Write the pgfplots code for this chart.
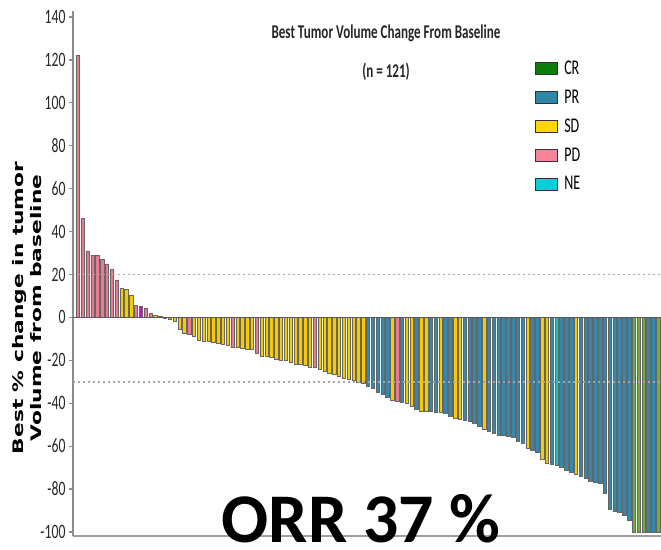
\documentclass[border=0pt]{standalone}
\usepackage{fontspec}
\setmainfont{Carlito}
\newfontfamily\narrow{Carlito}[FakeStretch=0.67]
\newfontfamily\dv{DejaVu Sans}
\usepackage{pgfplots}
\pgfplotsset{compat=1.18}
\definecolor{cCR}{HTML}{6FAE3A}
\definecolor{cCRl}{HTML}{0A7D0A}
\definecolor{cPR}{HTML}{3488AD}
\definecolor{cPRl}{HTML}{2E86A8}
\definecolor{cSD}{HTML}{F7CB00}
\definecolor{cSDl}{HTML}{FFD700}
\definecolor{cPD}{HTML}{EC7A8F}
\definecolor{cPDl}{HTML}{F7849A}
\definecolor{cNE}{HTML}{14C4CC}
\definecolor{cNEl}{HTML}{00D0D8}
\definecolor{cMG}{HTML}{D010D0}
\pgfplotsset{legbox/.style={legend image code/.code={\draw[fill=#1, draw=black!80, line width=0.9bp] (0bp,-6bp) rectangle (22bp,6bp);}}}
\begin{document}
\begin{tikzpicture}
\path[use as bounding box] (0,0) rectangle (661bp,550bp);
\begin{axis}[
  at={(73bp,13.7bp)}, anchor=south west, scale only axis,
  width=588bp, height=525.7bp,
  xmin=-0.03, xmax=121.6, ymin=-102, ymax=143,
  axis x line=bottom, axis y line=left,
  x axis line style={-, draw=gray!75, line width=2bp},
  y axis line style={-, draw=gray!90, line width=1.5bp},
  xtick=\empty,
  ytick={-100,-80,...,140},
  tick align=outside, major tick length=4bp,
  ytick style={draw=gray!90, line width=1.2bp},
  yticklabel style={font=\narrow\fontsize{20.5}{20.5}\selectfont, text=black!85},
  /pgf/number format/assume math mode=true,
  ybar, bar width=3.4bp, bar shift=0pt,
  legend style={at={(0.786,0.909)}, anchor=north west, draw=none, fill=none,
    font=\narrow\fontsize{21}{21}\selectfont, row sep=10bp, inner sep=0pt,
    column sep=4bp},
  legend cell align=left,
]
\addplot[fill=cPD, draw=black!60, line width=0.5bp, forget plot] table {
x y
1 122
2 46
3 31
4 29
5 29
6 27
7 25
8 22.5
9 17.5
13 5.5
15 4.5
16 2
24 -8
33 -14
38 -16.5
50 -23
67 -39
};
\addplot[fill=cMG, draw=black!60, line width=0.5bp, forget plot] table {
x y
14 5
};
\addplot[fill=cSD, draw=black!60, line width=0.5bp, forget plot] table {
x y
10 13.5
11 13
12 10.5
17 1
18 0.5
19 -0.3
20 -0.8
21 -2
22 -5.5
23 -7.5
25 -9
26 -10.5
27 -11
28 -11
29 -11.5
30 -12
31 -12.5
32 -13
34 -14
35 -14.5
36 -15
37 -15
39 -18
40 -18
41 -18.5
42 -19.5
43 -20
44 -20
45 -21
46 -22
47 -22
48 -22.5
49 -23
51 -24
52 -25
53 -26
54 -26.5
55 -27.5
56 -28.5
57 -29
58 -29.5
59 -30
60 -30.5
66 -38.5
69 -40
70 -41.5
72 -43.5
73 -43.5
76 -44
79 -47
80 -47.5
85 -52
94 -61
97 -66
98 -68
104 -73
};
\addplot[fill=cPR, draw=black!60, line width=0.5bp, forget plot] table {
x y
61 -32
62 -33
63 -35
64 -36
65 -37
68 -39.5
71 -43
74 -43.5
75 -44
77 -44.5
78 -46
81 -48
82 -48.5
83 -49.5
84 -50.5
86 -53
87 -54
88 -55
89 -55
90 -55.5
91 -56
92 -57.5
93 -58.5
95 -62
96 -63
99 -68.5
101 -70
102 -71
103 -72
105 -74
106 -75
107 -76.5
108 -77
109 -77.5
110 -82
111 -89.5
112 -90.5
113 -91
114 -92
115 -94.5
119 -100
120 -100
};
\addplot[fill=cNE, draw=black!60, line width=0.5bp, forget plot] table {
x y
100 -69
};
\addplot[fill=cCR, draw=black!60, line width=0.5bp, forget plot] table {
x y
116 -100
117 -100
118 -100
121 -100
};
\draw[gray!70, line width=1.5bp, dash pattern=on 2bp off 3bp] (axis cs:-0.03,20) -- (axis cs:121.6,20);
\draw[gray!70, line width=1.5bp, dash pattern=on 2bp off 3bp] (axis cs:-0.03,-30) -- (axis cs:121.6,-30);
\draw[black!65, line width=1.6bp] (axis cs:-0.03,0) -- (axis cs:121.6,0);
\addlegendimage{legbox=cCRl}\addlegendentry{CR}
\addlegendimage{legbox=cPRl}\addlegendentry{PR}
\addlegendimage{legbox=cSDl}\addlegendentry{SD}
\addlegendimage{legbox=cPDl}\addlegendentry{PD}
\addlegendimage{legbox=cNEl}\addlegendentry{NE}
\end{axis}
\node[anchor=base, font=\narrow\bfseries\fontsize{19.6}{21}\selectfont, text=black!85] at (386bp,511bp) {Best Tumor Volume Change From Baseline};
\node[anchor=base, font=\narrow\bfseries\fontsize{19.6}{21}\selectfont, text=black!85] at (386bp,472bp) {(n = 121)};
\node[rotate=90, inner sep=0pt] at (29bp,242bp) {\scalebox{1}[0.67]{\dv\bfseries\fontsize{21.8}{27}\selectfont\begin{tabular}{@{}c@{}}Best \% change in tumor\\Volume from baseline\end{tabular}}};
\node[anchor=base, font=\bfseries\fontsize{70}{70}\selectfont, inner sep=0pt] at (361bp,8bp) {ORR 37 \%};
\end{tikzpicture}
\end{document}
